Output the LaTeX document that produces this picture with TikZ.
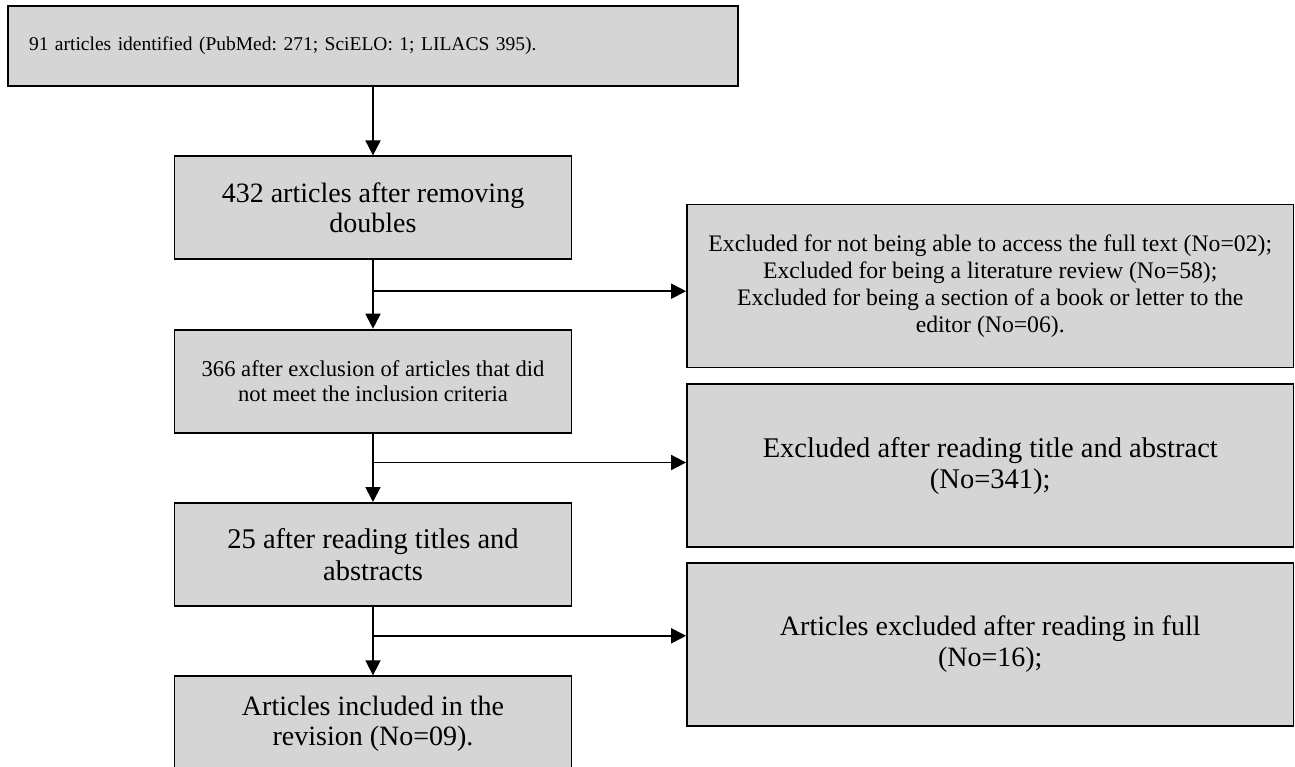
\documentclass[tikz,border=0pt]{standalone}
\usepackage{fontspec}
\setmainfont{Liberation Serif}
\usepackage{tikz}
\usetikzlibrary{positioning,arrows.meta}
\frenchspacing

\definecolor{boxgray}{RGB}{213,213,213}

\begin{document}
\begin{tikzpicture}[x=1pt,y=1pt,node distance=68.5pt]
\tikzstyle{box}=[draw,fill=boxgray,line width=1.8pt,inner sep=0pt,align=center,
  minimum width=397pt,minimum height=103pt,font=\fontsize{28pt}{30pt}\selectfont]
\tikzstyle{side}=[box,minimum width=606.5pt,minimum height=163pt]
\tikzstyle{arr}=[line width=1.8pt,-{Triangle[length=15pt,width=15pt]}]

\useasboundingbox (0,0) rectangle (1295,-766);

% main column
\node [box,minimum width=730pt,minimum height=80pt,text width=688pt,align=left,
  font=\fontsize{19.5pt}{23pt}\selectfont] (found) at (373,-46)
  {91 articles identified (PubMed: 271; SciELO: 1; LILACS 395).};
\node [box,below=of found] (nodup) {432 articles after removing\\doubles};
\node [box,below=of nodup,font=\fontsize{22.6pt}{25pt}\selectfont] (crit)
  {366 after exclusion of articles that did\\not meet the inclusion criteria};
\node [box,below=of crit,font=\fontsize{28.5pt}{32pt}\selectfont] (title)
  {25 after reading titles and\\abstracts};
\node [box,below=of title,minimum height=96pt] (incl)
  {Articles included in the\\revision (No=09).};

% excluded
\node [side,font=\fontsize{23.7pt}{27pt}\selectfont] (exA) at (990.25,-286)
  {Excluded for not being able to access the full text (No=02);\\
   Excluded for being a literature review (No=58);\\
   Excluded for being a section of a book or letter to the\\
   editor (No=06).};
\node [side,below=15pt of exA,font=\fontsize{28.5pt}{31pt}\selectfont] (exB)
  {Excluded after reading title and abstract\\(No=341);};
\node [side,below=14pt of exB,font=\fontsize{28pt}{31pt}\selectfont] (exC)
  {Articles excluded after reading in full\\(No=16);};

\coordinate [below=31pt of nodup.south] (j1);
\coordinate [below=29pt of crit.south] (j2);
\coordinate [below=29pt of title.south] (j3);

\draw[arr] (found) -- (nodup);
\draw[arr] (nodup) -- (crit);
\draw[arr] (crit) -- (title);
\draw[arr] (title) -- (incl);

\draw[arr] (j1) -- (j1 -| exA.west);
\draw[arr] (j2) -- (j2 -| exB.west);
\draw[arr] (j3) -- (j3 -| exC.west);

\end{tikzpicture}
\end{document}
